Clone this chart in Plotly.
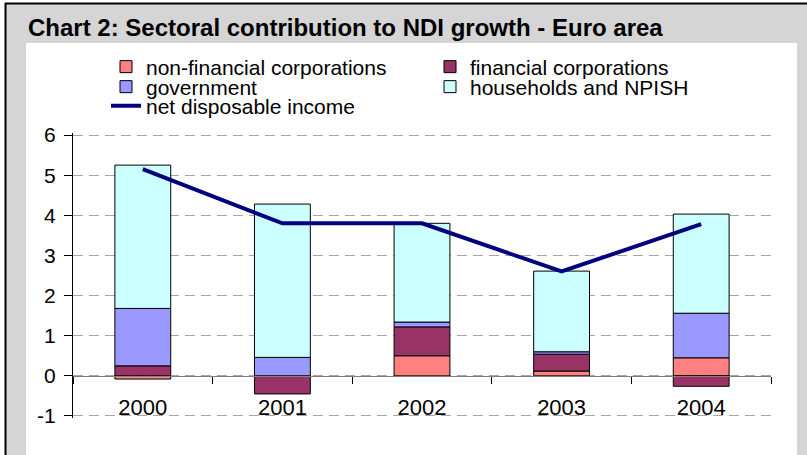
import plotly.graph_objects as go

# ---------------- data ----------------
years = ["2000", "2001", "2002", "2003", "2004"]
non_financial = [-0.08, 0.0, 0.50, 0.12, 0.45]
financial = [0.25, -0.45, 0.72, 0.42, -0.26]
government = [1.43, 0.46, 0.12, 0.06, 1.11]
households = [3.57, 3.82, 2.46, 2.01, 2.47]
net_disposable_income = [5.15, 3.80, 3.80, 2.60, 3.78]
y_ticks = [-1, 0, 1, 2, 3, 4, 5, 6]
y_tick_labels = ["-1", "0", "1", "2", "3", "4", "5", "6"]

title_text = "Chart 2: Sectoral contribution to NDI growth - Euro area"

# ---------------- geometry helpers (pixel -> paper) ----------------
W, H = 807, 455
L, R, T, B = 73, 771, 133, 418  # plot area in pixels (y range padded by 0.05)


def fx(px):
    return (px - L) / (R - L)


def fy(py):
    return (B - py) / (B - T)


FONT = "Liberation Sans, Arial, sans-serif"

fig = go.Figure()

bar_specs = [
    ("non-financial corporations", non_financial, "#FF8080", "legend"),
    ("financial corporations", financial, "#993366", "legend2"),
    ("government", government, "#9999FF", "legend3"),
    ("households and NPISH", households, "#CCFFFF", "legend4"),
]
for name, vals, col, lg in bar_specs:
    fig.add_trace(go.Bar(
        x=years, y=vals, name=name, legend=lg, showlegend=True,
        marker=dict(color=col, line=dict(color="#000000", width=1)),
    ))

fig.add_trace(go.Scatter(
    x=years, y=net_disposable_income, name="net disposable income",
    mode="lines", line=dict(color="#000080", width=4), legend="legend5",
    showlegend=True,
))

legend_common = dict(
    bgcolor="rgba(0,0,0,0)", borderwidth=0,
    font=dict(family=FONT, size=21, color="#000000"),
    xanchor="left", yanchor="middle", itemclick=False, visible=True,
)
col1_x, col2_x = 106, 430
row_y = [67, 87, 106]

fig.update_layout(
    width=W, height=H, autosize=False, showlegend=True,
    margin=dict(l=L, r=W - R, t=T, b=H - B, pad=0),
    paper_bgcolor="#FFFFFF", plot_bgcolor="rgba(0,0,0,0)",
    barmode="relative", bargap=0.6,
    font=dict(family=FONT, color="#000000"),
    legend=dict(x=fx(col1_x), y=fy(row_y[0]), **legend_common),
    legend2=dict(x=fx(col2_x), y=fy(row_y[0]), **legend_common),
    legend3=dict(x=fx(col1_x), y=fy(row_y[1]), **legend_common),
    legend4=dict(x=fx(col2_x), y=fy(row_y[1]), **legend_common),
    legend5=dict(x=fx(col1_x), y=fy(row_y[2]), **legend_common),
    xaxis=dict(
        type="category", range=[-0.5, 4.5],
        anchor="free", position=fy(376),
        showline=True, linecolor="#808080", linewidth=1,
        ticks="outside", tickson="boundaries", ticklen=7, tickcolor="#000000",
        ticklabelstandoff=12,
        tickfont=dict(family=FONT, size=22, color="#000000"),
        showgrid=False, zeroline=False,
    ),
    yaxis=dict(
        range=[-1.05, 6.05], tickvals=y_ticks, ticktext=y_tick_labels,
        showline=True, linecolor="#000000", linewidth=1,
        ticks="outside", ticklen=8, tickcolor="#000000",
        ticklabelstandoff=4,
        tickfont=dict(family=FONT, size=21, color="#000000"),
        showgrid=True, gridcolor="#A6A6A6", gridwidth=1, griddash="10px,6px",
        zeroline=False,
    ),
    annotations=[dict(
        text="<b>" + title_text + "</b>", xref="paper", yref="paper",
        x=fx(26), y=fy(28), xanchor="left", yanchor="middle", showarrow=False,
        font=dict(family=FONT, size=24, color="#000000"),
    )],
    shapes=[
        # patterned grey frame (approximated as flat grey)
        dict(type="rect", xref="paper", yref="paper", layer="below",
             x0=fx(6), x1=fx(W + 2), y0=fy(H + 2), y1=fy(4),
             fillcolor="#D5D5D5", line=dict(width=0)),
        # white chart area
        dict(type="rect", xref="paper", yref="paper", layer="below",
             x0=fx(26), x1=fx(797), y0=fy(H + 2), y1=fy(43),
             fillcolor="#FFFFFF", line=dict(width=0)),
        # black frame edges
        dict(type="line", xref="paper", yref="paper", layer="below",
             x0=fx(5), x1=fx(W + 2), y0=fy(3.5), y1=fy(3.5),
             line=dict(color="#000000", width=2)),
        dict(type="line", xref="paper", yref="paper", layer="below",
             x0=fx(5.5), x1=fx(5.5), y0=fy(3), y1=fy(H + 2),
             line=dict(color="#000000", width=2)),
    ],
)

fig.write_html("out.html")
